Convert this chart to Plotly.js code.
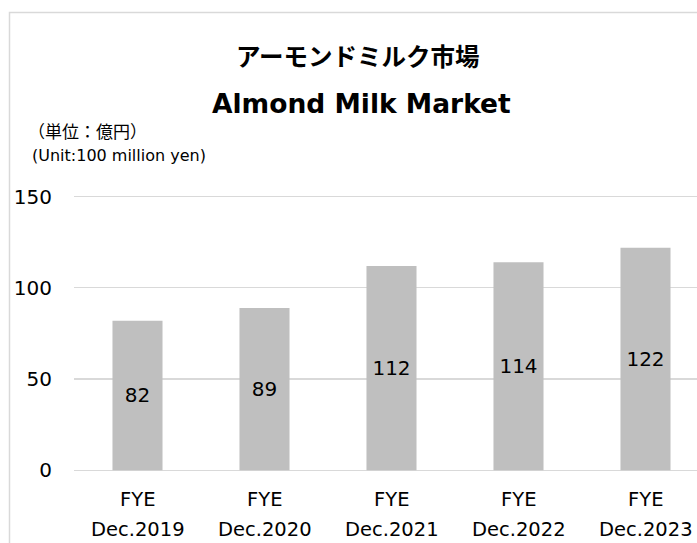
<!DOCTYPE html>
<html>
<head>
<meta charset="utf-8">
<script src="https://cdn.plot.ly/plotly-3.0.1.min.js"></script>
<style>
html,body{margin:0;padding:0;background:#fff;}
#chart{width:697px;height:543px;}
</style>
</head>
<body>
<div id="chart"></div>
<script>
// ---- data ----
const categories = ["Dec.2019", "Dec.2020", "Dec.2021", "Dec.2022", "Dec.2023"];
const prefixLabels = ["FYE", "FYE", "FYE", "FYE", "FYE"];
const values = [82, 89, 112, 114, 122];
const yTickVals = [0, 50, 100, 150];
const titleJa = "アーモンドミルク市場";
const titleEn = "Almond Milk Market";
const unitJa = "（単位：億円）";
const unitEn = "(Unit:100 million yen)";

const FONT = "DejaVu Sans, Noto Sans CJK JP, sans-serif";
const JAFONT = "Noto Sans CJK JP, DejaVu Sans, sans-serif";

// ---- geometry (pixels) ----
const W = 697, H = 543;
const M = {l: 74, r: 0, t: 193, b: 71};
const plotTop = M.t, plotBottom = H - M.b, plotH = plotBottom - plotTop;
const plotLeft = M.l, plotW = W - M.l - M.r;
const py = p => (plotBottom - p) / plotH;   // pixel y -> paper y
const px = p => (p - plotLeft) / plotW;     // pixel x -> paper x

const xIdx = categories.map((c, i) => i);

const trace = {
  type: "bar",
  x: xIdx,
  y: values,
  text: values.map(String),
  textposition: "inside",
  insidetextanchor: "middle",
  insidetextfont: {family: FONT, size: 20, color: "#000000"},
  marker: {color: "#BFBFBF", line: {width: 0}},
  hoverinfo: "none"
};

const annotations = [];
xIdx.forEach((xi, i) => {
  annotations.push({xref: "x", yref: "paper", x: xi, y: py(499), text: prefixLabels[i],
    showarrow: false, xanchor: "center", yanchor: "middle",
    font: {family: FONT, size: 19.5, color: "#000"}});
  annotations.push({xref: "x", yref: "paper", x: xi, y: py(542), text: categories[i],
    showarrow: false, xanchor: "center", yanchor: "bottom", borderpad: 0,
    font: {family: FONT, size: 19.5, color: "#000"}});
});
annotations.push({xref: "paper", yref: "paper", x: px(358), y: py(55), text: "<b>" + titleJa + "</b>",
  showarrow: false, xanchor: "center", yanchor: "middle",
  font: {family: JAFONT, size: 24.5, color: "#000"}});
annotations.push({xref: "paper", yref: "paper", x: px(361), y: py(103), text: "<b>" + titleEn + "</b>",
  showarrow: false, xanchor: "center", yanchor: "middle",
  font: {family: FONT, size: 26.5, color: "#000"}});
annotations.push({xref: "paper", yref: "paper", x: px(26), y: py(131), text: unitJa,
  showarrow: false, xanchor: "left", yanchor: "middle",
  font: {family: JAFONT, size: 17, color: "#000"}});
annotations.push({xref: "paper", yref: "paper", x: px(30), y: py(155), text: unitEn,
  showarrow: false, xanchor: "left", yanchor: "middle",
  font: {family: FONT, size: 16, color: "#000"}});

const layout = {
  width: W,
  height: H,
  margin: {l: M.l, r: M.r, t: M.t, b: M.b, pad: 0},
  paper_bgcolor: "#ffffff",
  plot_bgcolor: "#ffffff",
  showlegend: false,
  bargap: 0.606,
  font: {family: FONT, color: "#000"},
  xaxis: {
    range: [-0.5, -0.5 + plotW / 127],
    showticklabels: false,
    showgrid: false,
    zeroline: false,
    showline: false,
    ticks: "",
    fixedrange: true
  },
  yaxis: {
    range: [-1, 152],
    tickvals: yTickVals,
    ticktext: yTickVals.map(String),
    tickfont: {family: FONT, size: 20, color: "#000"},
    showgrid: true,
    gridcolor: "#D9D9D9",
    gridwidth: 1.3,
    zeroline: false,
    showline: false,
    ticks: "",
    ticklabelstandoff: 21,
    fixedrange: true
  },
  shapes: [{
    type: "rect", xref: "paper", yref: "paper",
    x0: px(9.5), x1: px(760), y0: py(600), y1: py(12.5),
    line: {color: "#D9D9D9", width: 1.5},
    fillcolor: "rgba(0,0,0,0)", layer: "below"
  }],
  annotations: annotations
};

Plotly.newPlot("chart", [trace], layout, {displayModeBar: false, staticPlot: true});
</script>
</body>
</html>
